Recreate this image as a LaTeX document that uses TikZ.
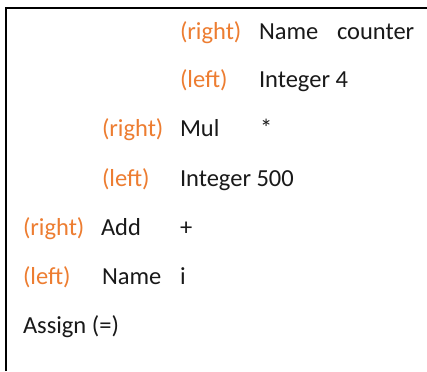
\documentclass[tikz,border=0pt]{standalone}
\usepackage{fontspec}
\setmainfont{Carlito}
\definecolor{sideorange}{HTML}{ED7D31}
\begin{document}
\begin{tikzpicture}[x=1pt,y=-1pt,
  every node/.style={inner sep=0pt,outer sep=0pt,anchor=base west,font=\fontsize{24.5}{29}\selectfont},
  side/.style={text=sideorange},
  kind/.style={text=black!90}]
\useasboundingbox (0,0) rectangle (427,371);
\fill[white] (0,0) rectangle (427,371);
% frame: only the top and left edges show
\draw[line width=2.6pt] (6,371) -- (6,8) -- (427,8);
% row 1
\node[side] (r1s) at (180,40) {(right)};
\node[kind] (r1k) at (259,40) {Name};
\node[kind] (r1v) at (337,40) {counter};
% row 2
\node[side] (r2s) at (180,88) {(left)};
\node[kind] (r2k) at (259,88) {Integer 4};
% row 3
\node[side] (r3s) at (102,137) {(right)};
\node[kind] (r3k) at (180,137) {Mul};
\node[kind] (r3v) at (260,137) {*};
% row 4
\node[side] (r4s) at (102,186) {(left)};
\node[kind] (r4k) at (180,186) {Integer 500};
% row 5
\node[side] (r5s) at (23,235) {(right)};
\node[kind] (r5k) at (101,235) {Add};
\node[kind] (r5v) at (180,235) {+};
% row 6
\node[side] (r6s) at (23,284) {(left)};
\node[kind] (r6k) at (102,284) {Name};
\node[kind] (r6v) at (180,284) {i};
% row 7
\node[kind] (r7k) at (23,333) {Assign (=)};
\end{tikzpicture}
\end{document}
